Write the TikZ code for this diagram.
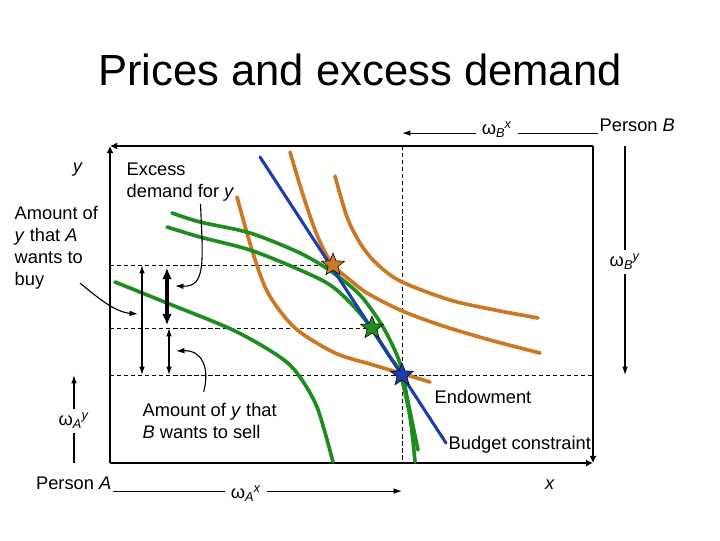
\documentclass[tikz,border=0pt]{standalone}
\usepackage{fontspec}
\setmainfont{Liberation Sans}
\usetikzlibrary{shapes.geometric,arrows.meta,calc}

\definecolor{icgreen}{RGB}{30,140,30}
\definecolor{icorange}{RGB}{204,119,34}
\definecolor{bcblue}{RGB}{30,60,170}

% omega with subscript person and superscript good
\newcommand{\omlab}[2]{ω\textsubscript{\textit{#1}}\kern-0.5pt\textsuperscript{\textit{#2}}}

\begin{document}
\begin{tikzpicture}[
    x=0.025cm, y=-0.025cm,
    lbl/.style={font=\fontsize{13}{15.6}\selectfont, inner sep=1pt},
    note/.style={lbl, align=left, anchor=west},
    omega/.style={lbl, inner xsep=4pt, inner ysep=3pt},
    axis/.style={line width=1.5pt, -{Latex[length=5pt,width=5pt]}},
    guide/.style={line width=0.5pt, dash pattern=on 3pt off 2pt},
    thinln/.style={line width=0.8pt},
    arrow/.style={->, >={Latex[length=6pt,width=4pt]}, line width=0.8pt},
    curveA/.style={icgreen, line width=2.6pt, line cap=round},
    curveB/.style={icorange, line width=2.6pt, line cap=round},
    budget/.style={bcblue, line width=2.2pt, line cap=round},
    eqstar/.style={star, star points=5, star point ratio=2.3, minimum size=17pt, inner sep=0pt, draw=black, line width=0.4pt}
]
\useasboundingbox (0,0) rectangle (720,540);

\node[font=\fontsize{31}{36}\selectfont] (title) at (360,70) {Prices and excess demand};

% Edgeworth box
\coordinate (oA) at (110,463);
\coordinate (oB) at (593,146);
\draw[axis] (oA) -- (oA |- oB);
\draw[axis] (oA) -- (oA -| oB);
\draw[axis] (oB) -- (oB -| oA);
\draw[axis] (oB) -- (oB |- oA);

% tangency and endowment points
\coordinate (pO) at (333,265);
\coordinate (pG) at (372,328);
\coordinate (pE) at (402,375);

% guide lines
\draw[guide] (oA |- pO) -- (pO);
\draw[guide] (oA |- pG) -- (pG);
\draw[guide] (oA |- pE) -- (oB |- pE);
\draw[guide] (pE |- oB) -- (pE |- oA);

% indifference curves of B
\draw[curveB] plot[smooth] coordinates {(237,197) (252,250) (268,293) (295,328) (335,353) (370,364) (400,373) (430,382)};
\draw[curveB] plot[smooth] coordinates {(290,152) (303,195) (317,235) (332,264) (350,280) (367,293) (400,310) (440,325) (490,340) (540,353)};
\draw[curveB] plot[smooth] coordinates {(335,176) (347,217) (360,243) (375,262) (400,281) (450,300) (495,310) (538,318)};

% indifference curves of A
\draw[curveA] plot[smooth] coordinates {(115,282) (167,303) (233,330) (277,355) (297,373) (317,407) (333,462)};
\draw[curveA] plot[smooth] coordinates {(172,213) (200,222) (250,233) (300,253) (332,272) (360,295) (383,327) (400,363) (407,397) (418,450)};
\draw[curveA] plot[smooth] coordinates {(167,227) (200,237) (250,250) (300,270) (333,287) (363,317) (390,357) (400,373) (410,417) (415,462)};

% budget line
\coordinate (bcTop) at (260,157);
\coordinate (bcEnd) at (446,443);
\draw[budget] (bcTop) -- (bcEnd);

\node[eqstar, fill=icorange] (sO) at (pO) {};
\node[eqstar, fill=icgreen] (sG) at (pG) {};
\node[eqstar, fill=bcblue] (sE) at (pE) {};

% quantities of y
\coordinate (colBuy) at (142,0);
\coordinate (colEx) at (167,0);
\coordinate (colSell) at (169,0);
\draw[arrow, <->] (pO -| colBuy) -- (pE -| colBuy);
\draw[<->, >={Latex[length=8pt,width=7pt]}, line width=2.4pt] ([yshift=-2pt]pO -| colEx) -- ([yshift=2pt]pG -| colEx);
\draw[arrow, <->] (pG -| colSell) -- (pE -| colSell);

% labels
\node[lbl] (ylbl) at (78,170) {\textit{y}};
\node[lbl] (xlbl) at (550,485) {\textit{x}};
\node[note] (excess) at (125,182) {Excess\\demand for \textit{y}};
\node[note] (buy) at (13,248) {Amount of\\\textit{y} that \textit{A}\\wants to\\buy};
\node[note] (sell) at (141,421) {Amount of \textit{y} that\\\textit{B} wants to sell};
\node[lbl] (endow) at (483,397) {Endowment};
\node[note] (bclbl) at (447,445) {Budget constraint};

\coordinate (exTip) at (175,286);
\coordinate (buyTip) at (138,314);
\coordinate (sellTip) at (176,351);
\draw[arrow] ($(excess.south)+(20,1)$) .. controls (203,262) and (206,287) .. (exTip);
\draw[arrow] ($(buy.south west)+(67,-8)$) .. controls (96,296) and (114,312) .. (buyTip);
\draw[arrow] ($(sell.north)+(-6,-10)$) .. controls (210,368) and (202,350) .. (sellTip);

% endowments of A and B
\node[lbl, anchor=east] (personA) at (113,483) {Person \textit{A}};
\node[lbl, anchor=west] (personB) at (598,125) {Person \textit{B}};
\node[omega] (wAx) at (246,494) {\omlab{A}{x}};
\node[omega] (wAy) at (74,421) {\omlab{A}{y}};
\node[omega] (wBx) at (497,130) {\omlab{B}{x}};
\node[omega] (wBy) at (625,262) {\omlab{B}{y}};

\draw[thinln] (personA.south east) -- (wAx.west |- personA.south east);
\draw[arrow] (wAx.east |- personA.south east) -- (pE |- personA.south east);
\draw[thinln] (wAy.south) -- (wAy.south |- oA);
\draw[arrow] (wAy.north) -- (wAy.north |- pE);
\draw[thinln] (wBx.east |- personB.south west) -- (personB.south west);
\draw[arrow] (wBx.west |- personB.south west) -- (pE |- personB.south west);
\draw[thinln] (wBy.north) -- (wBy.north |- oB);
\draw[arrow] (wBy.south) -- (wBy.south |- pE);
\end{tikzpicture}
\end{document}
